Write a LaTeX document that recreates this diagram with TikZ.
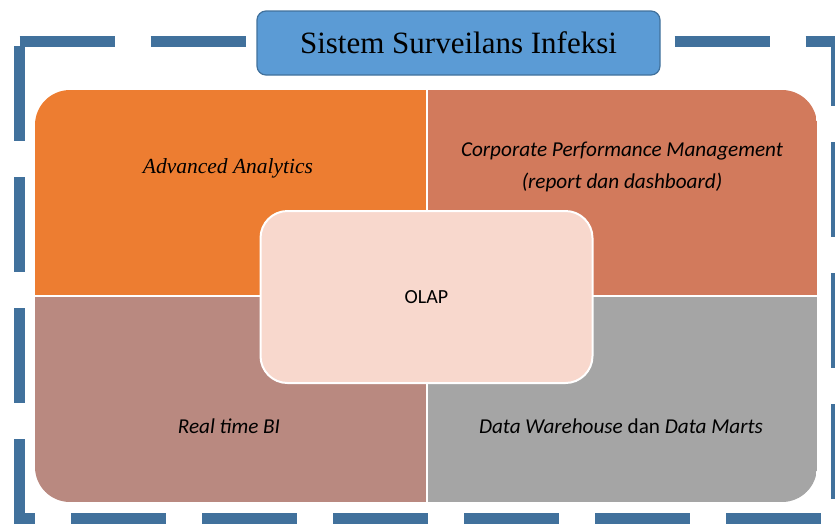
\documentclass[tikz,border=0pt]{standalone}
\usepackage{fontspec}
\setmainfont{Liberation Serif}
\setsansfont{Carlito}
\usepackage{tikz}

\definecolor{frameblue}{RGB}{65,113,156}
\definecolor{titleblue}{RGB}{91,155,213}
\definecolor{aaorange}{RGB}{237,125,49}
\definecolor{cpmred}{RGB}{210,122,92}
\definecolor{rtbrown}{RGB}{185,137,128}
\definecolor{dwgrey}{RGB}{165,165,165}
\definecolor{olappink}{RGB}{248,216,205}

\begin{document}
\begin{tikzpicture}[x=1pt, y=-1pt,
    quad/.style={rectangle, inner sep=0pt, minimum width=392pt, minimum height=206pt},
    lbl/.style={inner sep=0pt, align=center, font=\sffamily\itshape\fontsize{21.2}{32}\selectfont}]
    \useasboundingbox (0,0) rectangle (835,523);
    \draw[frameblue, line width=11pt, dash pattern=on 95pt off 36pt] (19.5,41.5) -- (836.5,41.5) -- (836.5,518.5) -- (19.5,518.5) -- cycle;
    \node[rectangle, rounded corners=9pt, fill=titleblue, draw=frameblue, line width=1.2pt, minimum width=403pt, minimum height=64pt, font=\rmfamily\fontsize{31}{36}\selectfont] (title) at (458.5,43) {Sistem Surveilans Infeksi};
    \begin{scope}
        \clip[rounded corners=35pt] (35,90) rectangle (817,502);
        \node[quad, fill=aaorange] (aa) at (231,193) {};
        \node[quad, fill=cpmred, minimum width=390pt] (cpm) at (622,193) {};
        \node[quad, fill=rtbrown] (rt) at (231,399) {};
        \node[quad, fill=dwgrey, minimum width=390pt] (dw) at (622,399) {};
    \end{scope}
    \draw[white, line width=2pt] (aa.north east) -- (rt.south east);
    \draw[white, line width=2pt] (aa.south west) -- (cpm.south east);
    \node[lbl, anchor=base, font=\rmfamily\itshape\fontsize{21.5}{25}\selectfont] (aatext) at (228,173) {Advanced Analytics};
    \node[lbl] (cpmtext) at (622,167) {Corporate Performance Management\\(report dan dashboard)};
    \node[lbl, anchor=base] (rttext) at (229,433) {Real time BI};
    \node[lbl, anchor=base] (dwtext) at (621,433) {Data Warehouse \textup{dan} Data Marts};
    \node[rectangle, rounded corners=27pt, fill=olappink, draw=white, line width=2pt, minimum width=332pt, minimum height=172pt, font=\sffamily\fontsize{20}{24}\selectfont] (olap) at (426.5,297) {OLAP};
\end{tikzpicture}
\end{document}
